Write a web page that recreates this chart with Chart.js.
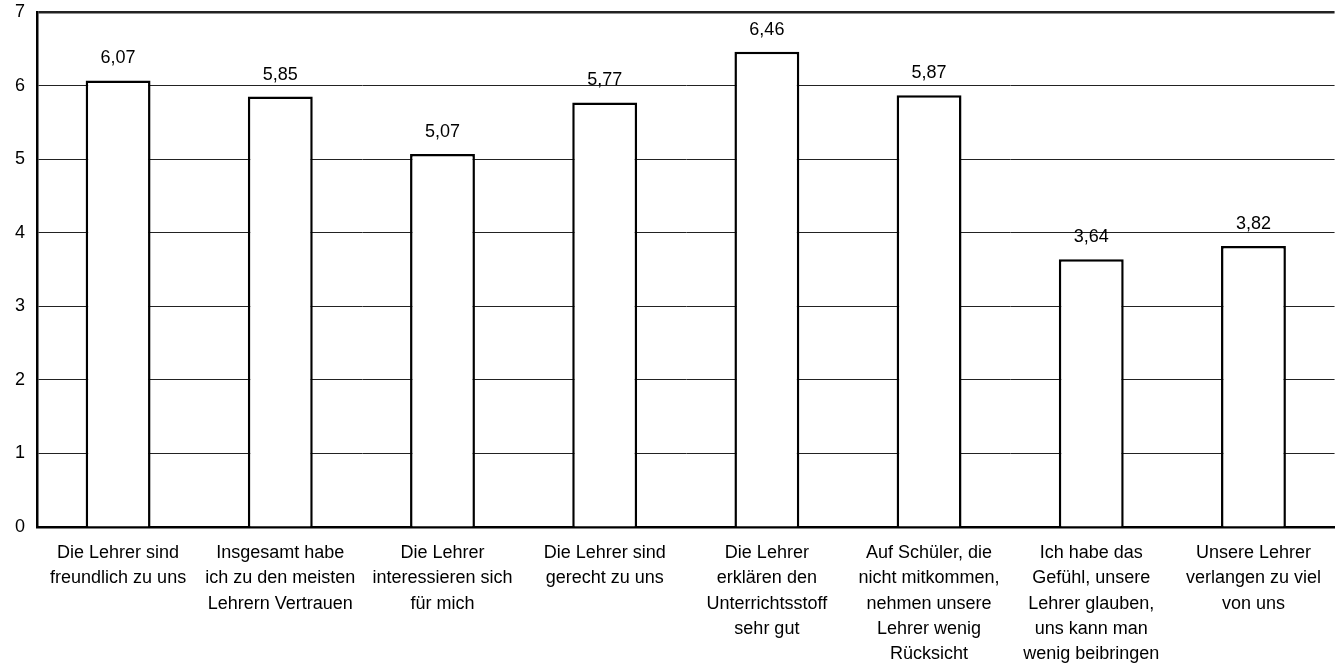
<!DOCTYPE html>
<html>
<head>
<meta charset="utf-8">
<script src="https://cdn.jsdelivr.net/npm/chart.js@4"></script>
<style>
  html, body { margin: 0; padding: 0; background: #fff; }
  #wrap { width: 1335px; height: 663px; }
</style>
</head>
<body>
<div id="wrap"><canvas id="chart" width="1335" height="663"></canvas></div>
<script>
var categories = [
  ['Die Lehrer sind', 'freundlich zu uns'],
  ['Insgesamt habe', 'ich zu den meisten', 'Lehrern Vertrauen'],
  ['Die Lehrer', 'interessieren sich', 'für mich'],
  ['Die Lehrer sind', 'gerecht zu uns'],
  ['Die Lehrer', 'erklären den', 'Unterrichtsstoff', 'sehr gut'],
  ['Auf Schüler, die', 'nicht mitkommen,', 'nehmen unsere', 'Lehrer wenig', 'Rücksicht'],
  ['Ich habe das', 'Gefühl, unsere', 'Lehrer glauben,', 'uns kann man', 'wenig beibringen'],
  ['Unsere Lehrer', 'verlangen zu viel', 'von uns']
];
var values = [6.07, 5.85, 5.07, 5.77, 6.46, 5.87, 3.64, 3.82];
var yTicks = [0, 1, 2, 3, 4, 5, 6, 7];

var font = 'Liberation Sans, Arial, sans-serif';

// writes the value over every bar, with a comma as decimal mark
var valueLabels = {
  id: 'valueLabels',
  afterDatasetsDraw: function(chart) {
    var ctx = chart.ctx;
    var meta = chart.getDatasetMeta(0);
    ctx.save();
    ctx.fillStyle = '#000';
    ctx.font = '18px ' + font;
    ctx.textAlign = 'center';
    ctx.textBaseline = 'alphabetic';
    meta.data.forEach(function(bar, i) {
      ctx.fillText(values[i].toFixed(2).replace('.', ','), bar.x, bar.y - 17);
    });
    ctx.restore();
  }
};

new Chart(document.getElementById('chart').getContext('2d'), {
  type: 'bar',
  data: {
    labels: categories,
    datasets: [{
      data: values,
      backgroundColor: '#fff',
      borderColor: '#000',
      borderWidth: 2.5,
      borderSkipped: 'bottom',
      categoryPercentage: 1,
      barPercentage: 0.4
    }]
  },
  options: {
    responsive: false,
    animation: false,
    layout: { padding: 0 },
    plugins: { legend: { display: false }, tooltip: { enabled: false } },
    scales: {
      x: {
        grid: { display: false, drawTicks: false },
        border: { color: '#000', width: 2.5 },
        afterFit: function(scale) { scale.height = 136; },
        ticks: {
          color: '#000',
          font: { family: font, size: 18, lineHeight: 1.39 },
          padding: 14,
          maxRotation: 0,
          autoSkip: false
        }
      },
      y: {
        min: 0,
        max: 7,
        afterBuildTicks: function(axis) {
          axis.ticks = yTicks.map(function(v) { return { value: v }; });
        },
        afterFit: function(scale) {
          scale.width = 37;
          scale.paddingTop = 12;
          scale.paddingBottom = 0;
        },
        grid: {
          color: '#222',
          lineWidth: function(c) { return c.tick && c.tick.value === 7 ? 2.5 : 1; },
          drawTicks: false
        },
        border: { color: '#000', width: 2.5 },
        ticks: {
          color: '#000',
          font: { family: font, size: 18 },
          padding: 12
        }
      }
    }
  },
  plugins: [valueLabels]
});
</script>
</body>
</html>
